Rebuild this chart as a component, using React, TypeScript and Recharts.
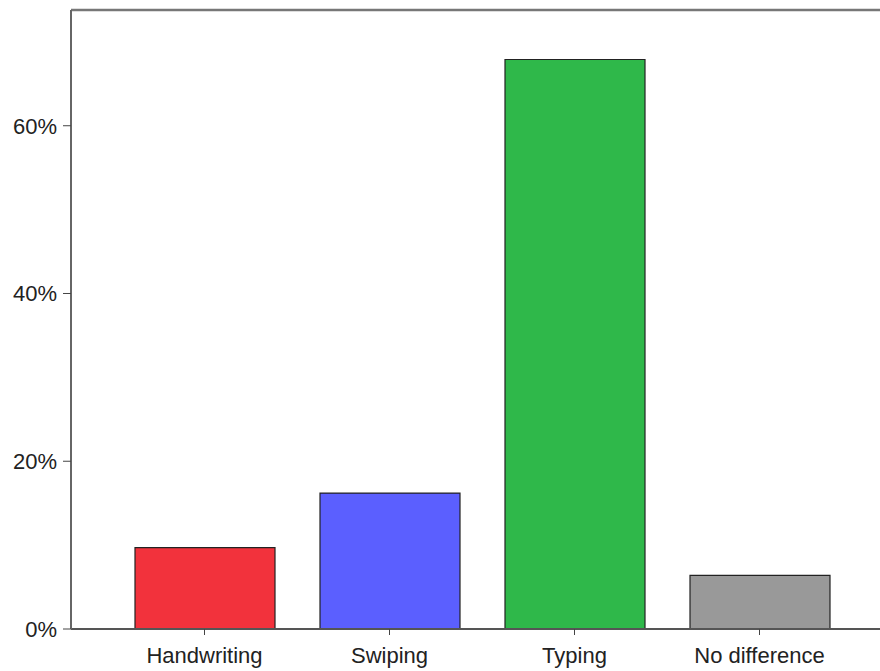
import { Bar, BarChart, Cell, ReferenceLine, XAxis, YAxis } from "recharts"

const categories = ["Handwriting", "Swiping", "Typing", "No difference"]
const percents = [9.7, 16.2, 67.9, 6.4]
const colors = ["#f2323c", "#5b5fff", "#2fb84a", "#999999"]
const yTicks = [0, 20, 40, 60]
const yMax = 73.8

const data = categories.map((name, i) => ({ name, value: percents[i], color: colors[i] }))

const font = "'Liberation Sans', Arial, sans-serif"

export default function App() {
    return (
        <div style={{ position: "absolute", left: 0, top: 0, width: 880, height: 671, overflow: "hidden", background: "#fff" }}>
            <BarChart
                width={900}
                height={671}
                data={data}
                margin={{ top: 10, right: 7, bottom: 0, left: 0 }}
                barCategoryGap={45}
            >
                <XAxis
                    dataKey="name"
                    height={42}
                    padding={{ left: 41, right: 41 }}
                    axisLine={{ stroke: "#555", strokeWidth: 2 }}
                    tickLine={{ stroke: "#444" }}
                    tickSize={6}
                    tickMargin={12}
                    tick={{ fill: "#222", fontSize: 22, fontFamily: font }}
                    interval={0}
                />
                <YAxis
                    width={71}
                    domain={[0, yMax]}
                    ticks={yTicks}
                    tickFormatter={(v) => `${v}%`}
                    axisLine={{ stroke: "#666", strokeWidth: 2 }}
                    tickLine={{ stroke: "#444" }}
                    tickSize={8}
                    tickMargin={6}
                    tick={{ fill: "#222", fontSize: 22, fontFamily: font }}
                />
                <ReferenceLine y={yMax} stroke="#777" strokeWidth={2.5} />
                <Bar dataKey="value" barSize={140} stroke="#222" strokeWidth={1.2} isAnimationActive={false}>
                    {data.map((d) => (
                        <Cell key={d.name} fill={d.color} />
                    ))}
                </Bar>
            </BarChart>
        </div>
    )
}
